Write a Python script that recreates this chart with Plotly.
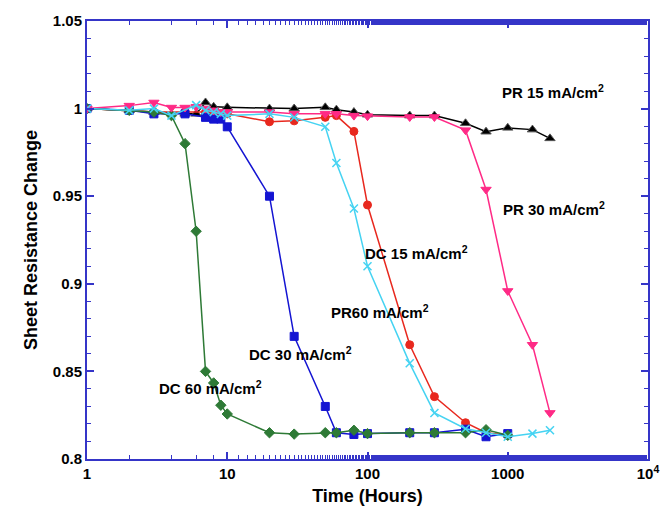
import math
import plotly.graph_objects as go

# ---- data ----
t_pr15 = [1, 2, 3, 5, 6, 7, 8, 10, 20, 30, 50, 60, 80, 100, 200, 300, 500, 700, 1000, 1500, 2000]
v_pr15 = [1.0, 0.999, 0.998, 0.997, 0.997, 1.0035, 1.001, 1.0007, 1.0, 1.0, 1.0007, 0.9994, 0.998,
          0.9965, 0.996, 0.996, 0.9916, 0.9868, 0.989, 0.988, 0.983]

t_pr30 = [1, 2, 3, 4, 5, 6, 7, 8, 9, 10, 20, 30, 50, 60, 80, 100, 200, 300, 500, 700, 1000, 1500, 2000]
v_pr30 = [1.0, 1.0017, 1.0035, 1.0006, 1.0006, 1.001, 1.0, 0.999, 0.998, 0.998, 0.998, 0.997, 0.997,
          0.997, 0.996, 0.9957, 0.9952, 0.9952, 0.9877, 0.9538, 0.8959, 0.8652, 0.8263]

t_dc15 = [1, 2, 3, 5, 7, 8, 9, 10, 20, 30, 50, 60, 80, 100, 200, 300, 500, 700, 1000]
v_dc15 = [1.0, 0.999, 0.998, 0.998, 0.998, 0.998, 0.997, 0.997, 0.9925, 0.993, 0.995, 0.996, 0.987,
          0.945, 0.8652, 0.8356, 0.8207, 0.815, 0.8135]

t_pr60 = [1, 2, 3, 4, 6, 7, 8, 9, 10, 20, 30, 50, 60, 80, 100, 200, 300, 500, 700, 1000, 1500, 2000]
v_pr60 = [1.0, 0.999, 1.0, 0.996, 1.002, 0.999, 0.998, 0.997, 0.996, 0.997, 0.995, 0.9896, 0.969,
          0.943, 0.910, 0.8546, 0.8263, 0.8173, 0.815, 0.8127, 0.8145, 0.8164]

t_dc30 = [1, 2, 3, 5, 7, 8, 9, 10, 20, 30, 50, 60, 80, 100, 200, 300, 500, 700, 1000]
v_dc30 = [1.0, 0.999, 0.997, 0.997, 0.995, 0.994, 0.994, 0.9896, 0.950, 0.870, 0.830, 0.815, 0.814,
          0.8145, 0.815, 0.815, 0.817, 0.8127, 0.8145]

t_dc60 = [1, 2, 3, 4, 5, 6, 7, 8, 9, 10, 20, 30, 50, 60, 80, 100, 200, 300, 500, 700, 1000]
v_dc60 = [1.0, 0.999, 0.998, 0.996, 0.980, 0.930, 0.850, 0.8434, 0.8307, 0.8257, 0.815, 0.8142,
          0.815, 0.815, 0.8164, 0.8145, 0.815, 0.815, 0.815, 0.8167, 0.8135]

x_tickvals = [1, 10, 100, 1000, 10000]
x_ticktext = ["1", "10", "100", "1000", "10<sup>4</sup>"]
y_tickvals = [0.8, 0.85, 0.9, 0.95, 1.0, 1.05]
y_ticktext = ["0.8", "0.85", "0.9", "0.95", "1", "1.05"]

labels = ["PR 15 mA/cm<sup>2</sup>", "PR 30 mA/cm<sup>2</sup>", "DC 15 mA/cm<sup>2</sup>",
          "PR60 mA/cm<sup>2</sup>", "DC 30 mA/cm<sup>2</sup>", "DC 60 mA/cm<sup>2</sup>"]
label_x = [875, 898, 93, 53, 13.8, 3.15]
label_y = [1.010, 0.943, 0.918, 0.8844, 0.860, 0.841]

FONT = "Arial, 'Liberation Sans', sans-serif"
AXC = "#3535C8"

fig = go.Figure()

def add(t, v, color, symbol, size, lw=1.5, lc=None):
    fig.add_trace(go.Scatter(
        x=t, y=v, mode="lines+markers",
        line=dict(color=color, width=lw),
        marker=dict(symbol=symbol, size=size, color=color,
                    line=dict(color=lc if lc else color, width=1)),
        showlegend=False))

add(t_pr15, v_pr15, "#000000", "triangle-up", 9, lc="#555555")
add(t_dc15, v_dc15, "#E8281E", "circle", 8)
add(t_dc30, v_dc30, "#1414D2", "square", 8)
add(t_dc60, v_dc60, "#2E7A36", "diamond", 8)
add(t_pr30, v_pr30, "#FF2A86", "triangle-down", 9)
fig.add_trace(go.Scatter(
    x=t_pr60, y=v_pr60, mode="lines+markers",
    line=dict(color="#45D3F2", width=1.5),
    marker=dict(symbol="x-thin", size=8, line=dict(color="#45D3F2", width=1.5)),
    showlegend=False))

for txt, lx, ly in zip(labels, label_x, label_y):
    fig.add_annotation(x=math.log10(lx), y=ly, xref="x", yref="y", text="<b>" + txt + "</b>",
                       showarrow=False, xanchor="left", yanchor="middle",
                       font=dict(family=FONT, size=15, color="#000000"))

fig.update_layout(
    width=672, height=515,
    margin=dict(l=87, r=24, t=14, b=54),
    paper_bgcolor="white", plot_bgcolor="white",
    font=dict(family=FONT, size=15, color="#000000"),
    xaxis=dict(
        type="log", range=[0, 4],
        tickvals=x_tickvals, ticktext=["<b>" + s + "</b>" for s in x_ticktext],
        ticks="inside", ticklen=7, tickwidth=1.5, tickcolor=AXC,
        minor=dict(ticks="inside", ticklen=4, tickwidth=1.2, tickcolor=AXC, showgrid=False),
        showline=True, linecolor=AXC, linewidth=2, mirror="ticks",
        showgrid=False, zeroline=False,
        tickfont=dict(family=FONT, size=15, color="#000000"),
        title=dict(text="<b>Time (Hours)</b>", font=dict(family=FONT, size=18, color="#000000"),
                   standoff=8),
    ),
    yaxis=dict(
        range=[0.8, 1.05],
        tickvals=y_tickvals, ticktext=["<b>" + s + "</b>" for s in y_ticktext],
        ticks="inside", ticklen=7, tickwidth=1.5, tickcolor=AXC,
        minor=dict(ticks="inside", ticklen=4, tickwidth=1.2, tickcolor=AXC, dtick=0.01, showgrid=False),
        showline=True, linecolor=AXC, linewidth=2, mirror="ticks",
        showgrid=False, zeroline=False,
        tickfont=dict(family=FONT, size=15, color="#000000"),
        title=dict(text="<b>Sheet Resistance Change</b>", font=dict(family=FONT, size=18, color="#000000"),
                   standoff=10),
    ),
)

fig.write_html("out.html")
